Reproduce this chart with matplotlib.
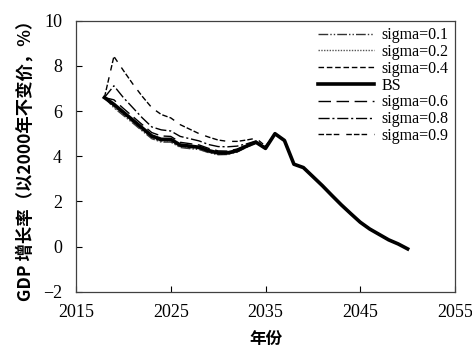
import matplotlib
matplotlib.use("Agg")
import matplotlib.pyplot as plt

years = list(range(2018, 2051))

# Common tail (2037-2050), identical across scenarios
tail = [4.70, 3.65, 3.50, 3.10, 2.70, 2.27, 1.85, 1.46, 1.08, 0.78, 0.54, 0.30, 0.12, -0.10]

bs_head = [6.60, 6.30, 5.95, 5.60, 5.25, 4.90, 4.75, 4.75, 4.50, 4.45, 4.40, 4.25,
           4.15, 4.15, 4.25, 4.45, 4.62, 4.35, 5.00]
s01_head = [6.60, 6.15, 5.81, 5.47, 5.12, 4.78, 4.63, 4.63, 4.39, 4.34, 4.30, 4.16,
            4.07, 4.08, 4.19, 4.40, 4.60, 4.33, 5.00]
s02_head = [6.60, 6.18, 5.84, 5.50, 5.15, 4.81, 4.66, 4.66, 4.42, 4.37, 4.32, 4.18,
            4.09, 4.09, 4.20, 4.41, 4.60, 4.33, 5.00]
s04_head = [6.60, 6.24, 5.90, 5.55, 5.20, 4.85, 4.70, 4.70, 4.46, 4.41, 4.36, 4.21,
            4.12, 4.12, 4.22, 4.43, 4.61, 4.34, 5.00]
s06_head = [6.60, 6.50, 6.12, 5.76, 5.40, 5.05, 4.90, 4.88, 4.62, 4.56, 4.50, 4.35,
            4.24, 4.23, 4.32, 4.50, 4.65, 4.37, 5.00]
s08_head = [6.60, 7.12, 6.60, 6.15, 5.70, 5.30, 5.17, 5.12, 4.88, 4.78, 4.68, 4.52,
            4.43, 4.42, 4.45, 4.55, 4.68, 4.38, 5.00]
s09_head = [6.60, 8.42, 7.80, 7.20, 6.65, 6.15, 5.85, 5.70, 5.40, 5.20, 5.00, 4.85,
            4.72, 4.66, 4.66, 4.72, 4.80, 4.45, 5.00]

series = [
    ("sigma=0.1", s01_head + tail, dict(lw=1.0, color="#333333", ls=(0, (7, 1.5, 1, 1.5, 1, 1.5)))),
    ("sigma=0.2", s02_head + tail, dict(lw=1.0, color="#555555", ls=(0, (1, 1)))),
    ("sigma=0.4", s04_head + tail, dict(lw=1.0, color="black", ls=(0, (4, 2)))),
    ("BS", bs_head + tail, dict(lw=2.6, color="black", ls="-")),
    ("sigma=0.6", s06_head + tail, dict(lw=1.0, color="black", ls=(0, (9, 4)))),
    ("sigma=0.8", s08_head + tail, dict(lw=1.0, color="black", ls=(0, (8, 2, 1.5, 2)))),
    ("sigma=0.9", s09_head + tail, dict(lw=1.0, color="black", ls=(0, (4, 1.5, 4, 1.5, 4, 5)))),
]

serif = ["Liberation Serif", "DejaVu Serif"]
cjk = ["Noto Sans CJK SC", "DejaVu Sans"]

fig = plt.figure(figsize=(4.72, 3.52), dpi=100)
ax = fig.add_axes([0.161, 0.171, 0.803, 0.770])

for name, vals, st in series:
    ax.plot(years, vals, label=name, **st)

ax.set_xlim(2015, 2055)
ax.set_ylim(-2, 10)
ax.set_xticks([2015, 2025, 2035, 2045, 2055])
ax.set_yticks([-2, 0, 2, 4, 6, 8, 10])
ax.set_yticklabels(["\u22122", "0", "2", "4", "6", "8", "10"])
ax.tick_params(direction="in", length=4, width=0.8, labelsize=13, colors="black")
ax.tick_params(axis="y", pad=10)
ax.tick_params(axis="x", pad=9)
for lab in ax.get_xticklabels() + ax.get_yticklabels():
    lab.set_family(serif)
for sp in ax.spines.values():
    sp.set_color("#404040")
    sp.set_linewidth(0.9)

ax.set_xlabel("年份", family=cjk, fontweight="bold", fontsize=12, labelpad=6)
ax.set_ylabel("GDP 增长率（以2000年不变价，%）", family=cjk, fontweight="bold",
              fontsize=12.5, labelpad=6)

leg = ax.legend(loc="upper right", frameon=False, prop={"family": serif, "size": 11.5},
                handlelength=3.5, handletextpad=0.5, labelspacing=0.05,
                borderaxespad=0.0)

fig.savefig("out.png", dpi=100)
